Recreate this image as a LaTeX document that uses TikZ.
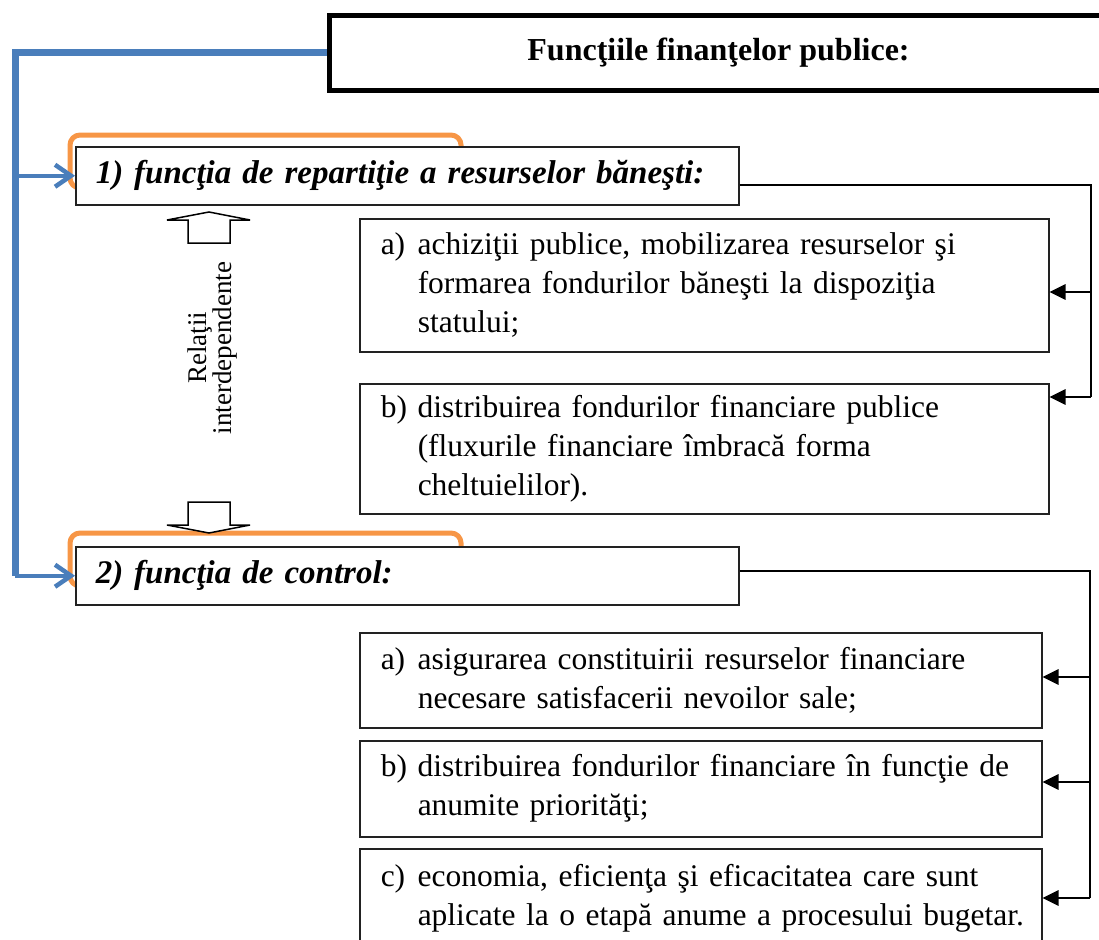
\documentclass[tikz,border=0pt]{standalone}
\usepackage{fontspec}
\setmainfont{Liberation Serif}
\usetikzlibrary{arrows.meta,calc}
\definecolor{ublue}{HTML}{4A7EBB}
\definecolor{uorange}{HTML}{F79646}
\definecolor{bord}{HTML}{222222}
\newcommand\boxlbl[1]{\hspace*{21pt}\makebox[37pt][l]{#1}}
\newcommand\boxcont{\hspace*{58pt}}
\begin{document}
\begin{tikzpicture}[x=1pt,y=-1pt,
  orangebox/.style={draw=uorange,line width=5pt,rounded corners=10pt},
  bluemain/.style={draw=ublue,line width=7pt,line join=miter},
  bluearrow/.style={draw=ublue,line width=4.5pt,-{Straight Barb[length=16pt,width=22pt]}},
  titlebox/.style={draw=black,line width=5pt,fill=white,inner sep=0pt,
    font=\bfseries\fontsize{32}{38}\selectfont},
  fnbox/.style={draw=bord,line width=1.5pt,fill=white,inner xsep=0pt,inner ysep=0pt,
    align=left,font=\bfseries\itshape\fontsize{33}{40}\selectfont},
  itembox/.style={draw=bord,line width=1.5pt,fill=white,inner xsep=0pt,inner ysep=0pt,
    align=left,font=\fontsize{31.5}{39}\selectfont},
  conn/.style={draw=black,line width=2pt},
  connarrow/.style={draw=black,line width=2.8pt,-{Triangle[length=16pt,width=15pt]}},
  hollow/.style={draw=black,line width=1.5pt,fill=white,line join=miter},
  reltext/.style={rotate=90,align=center,inner sep=0pt,font=\fontsize{27}{25}\selectfont}
]
\useasboundingbox (0,0) rectangle (1099,939);

% orange frames behind the function boxes
\draw[orangebox] (70,135) rectangle (461,188);
\draw[orangebox] (70,533) rectangle (461,586);

% title box
\node[titlebox,anchor=north west,minimum width=778,minimum height=75] (title) at (327,13)
  {Funcţiile finanţelor publice:};

\coordinate (bl) at (15,0);

% function boxes
\node[fnbox,anchor=north west,text width=663,minimum height=58] (f1) at (75,146)
  {\hspace*{20pt}1) funcţia de repartiţie a resurselor băneşti:};
\node[fnbox,anchor=north west,text width=663,minimum height=58] (f2) at (75,546)
  {\hspace*{20pt}2) funcţia de control:};

% item boxes, group 1
\node[itembox,anchor=north west,text width=689,minimum height=133] (f1a) at (359,218)
  {\boxlbl{a)}achiziţii publice, mobilizarea resurselor şi\\
   \boxcont formarea fondurilor băneşti la dispoziţia\\
   \boxcont statului;};
\node[itembox,anchor=north west,text width=689,minimum height=130] (f1b) at (359,383)
  {\boxlbl{b)}distribuirea fondurilor financiare publice\\
   \boxcont (fluxurile financiare îmbracă forma\\
   \boxcont cheltuielilor).};

% item boxes, group 2
\node[itembox,anchor=north west,text width=682,minimum height=95] (f2a) at (359,632)
  {\boxlbl{a)}asigurarea constituirii resurselor financiare\\
   \boxcont necesare satisfacerii nevoilor sale;};
\node[itembox,anchor=north west,text width=682,minimum height=96] (f2b) at (359,740)
  {\boxlbl{b)}distribuirea fondurilor financiare în funcţie de\\
   \boxcont anumite priorităţi;};
\node[itembox,anchor=north west,text width=682,minimum height=100] (f2c) at (359,848)
  {\boxlbl{c)}economia, eficienţa şi eficacitatea care sunt\\
   \boxcont aplicate la o etapă anume a procesului bugetar.};

% blue connectors
\draw[bluemain] (title.west) -| (bl |- f2.west);
\draw[bluearrow] (bl |- f1.west) -- (f1.west);
\draw[bluearrow] (bl |- f2.west) -- (f2.west);

% hollow arrows and text
\draw[hollow] (188,243) -- (188,220) -- (167,220) -- (209,212) -- (250,220) -- (230,220) -- (230,243) -- cycle;
\draw[hollow] (188,502) -- (188,525) -- (167,525) -- (209,533) -- (250,525) -- (230,525) -- (230,502) -- cycle;
\node[reltext] (rel) at (213,348) {Relaţii\\interdependente};

% black connectors group 1
\coordinate (j1) at (1091,185);
\coordinate (j1a) at (1091,292);
\coordinate (j1b) at (1091,397);
\draw[conn] (j1 -| f1.east) -- (j1) -- (j1b);
\draw[connarrow] (j1a) -- (j1a -| f1a.east);
\draw[connarrow] (j1b) -- (j1b -| f1b.east);

% black connectors group 2
\coordinate (j2) at (1090,571);
\coordinate (j2a) at (1090,677);
\coordinate (j2b) at (1090,782);
\coordinate (j2c) at (1090,898);
\draw[conn] (j2 -| f2.east) -- (j2) -- (j2c);
\draw[connarrow] (j2a) -- (j2a -| f2a.east);
\draw[connarrow] (j2b) -- (j2b -| f2b.east);
\draw[connarrow] (j2c) -- (j2c -| f2c.east);
\end{tikzpicture}
\end{document}
